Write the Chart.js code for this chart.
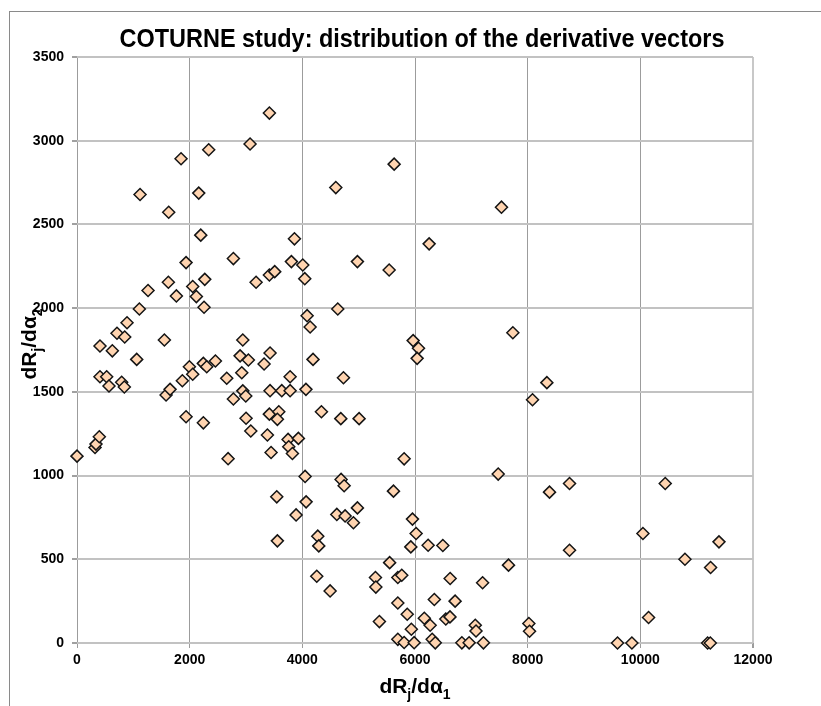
<!DOCTYPE html>
<html>
<head>
<meta charset="utf-8">
<title>COTURNE study</title>
<script src="https://cdn.jsdelivr.net/npm/chart.js@4.4.1/dist/chart.umd.min.js"></script>
<style>
  html, body { margin: 0; padding: 0; background: #fff; }
  #wrap { width: 821px; height: 706px; }
</style>
</head>
<body>
<div id="wrap"><canvas id="chart" width="821" height="706"></canvas></div>
<script>
// Derivative vectors: dRj/dalpha1 (x) and dRj/dalpha2 (y)
const dAlpha1 = [
  3415, 3072, 2338, 1847, 1119, 2161, 1628, 2197, 3860, 2776,
  3806, 4008, 1936, 3415, 3510, 3179, 4043, 1622, 2268, 1261,
  1764, 2054, 2119, 2255, 1107, 888, 710, 847, 408, 627,
  1551, 2943, 4085, 4138, 5630, 4594, 7535, 6251, 4978, 5541,
  4629, 7737, 5967, 6062, 1060, 408, 527, 568, 793, 840,
  1581, 1652, 1870, 1995, 2054, 2243, 2303, 2457, 2658, 2776,
  2895, 3042, 2925, 2943, 2996, 3321, 3427, 3427, 3635, 3783,
  3783, 4064, 1936, 2243, 3001, 3085, 3415, 3582, 3557, 3380,
  3445, 3747, 3759, 3824, 3930, 2682, 0, 320, 337, 396,
  4049, 3546, 4067, 3889, 3557, 4190, 4730, 4339, 4683, 5008,
  5807, 7477, 8086, 6038, 4688, 4742, 5618, 4612, 4759, 4978,
  4907, 5955, 6020, 5926, 6233, 6494, 4274, 4292, 5550, 7660,
  4256, 4493, 5298, 5305, 5695, 5765, 6624, 7200, 6343, 6712,
  5695, 5862, 5368, 6165, 6269, 5935, 6547, 6621, 7070, 7083,
  5695, 5807, 5985, 6305, 6360, 6832, 6961, 7215, 8021, 8033,
  8341, 8743, 8388, 10442, 10046, 8743, 11396, 10792, 11247, 10146,
  9595, 9850, 11194, 11242
];
const dAlpha2 = [
  3165, 2980, 2946, 2892, 2679, 2687, 2573, 2436, 2414, 2296,
  2278, 2258, 2272, 2198, 2218, 2155, 2176, 2155, 2172, 2105,
  2073, 2129, 2069, 2005, 1995, 1913, 1850, 1828, 1774, 1745,
  1810, 1810, 1955, 1887, 2860, 2720, 2603, 2384, 2278, 2228,
  1995, 1853, 1806, 1760, 1694, 1590, 1590, 1535, 1557, 1529,
  1481, 1515, 1566, 1650, 1605, 1670, 1650, 1684, 1581, 1457,
  1715, 1690, 1614, 1506, 1475, 1666, 1732, 1507, 1507, 1590,
  1507, 1515, 1351, 1315, 1342, 1266, 1367, 1381, 1336, 1242,
  1138, 1216, 1172, 1132, 1222, 1101, 1116, 1168, 1188, 1232,
  995, 873, 843, 765, 610, 1694, 1584, 1381, 1340, 1340,
  1100, 1009, 1453, 1700, 977, 939, 907, 768, 759, 807,
  718, 740, 654, 574, 584, 582, 638, 580, 480, 465,
  399, 311, 391, 334, 391, 405, 385, 360, 260, 250,
  239, 172, 128, 148, 106, 82, 143, 156, 106, 72,
  22, 3, 2, 22, 1, 1, 1, 1, 116, 70,
  1555, 953, 901, 953, 654, 554, 604, 500, 451, 152,
  0, 0, 0, 0
];
const xTicks = [0, 2000, 4000, 6000, 8000, 10000, 12000];
const yTicks = [0, 500, 1000, 1500, 2000, 2500, 3000, 3500];

const chartTitle = 'COTURNE study: distribution of the derivative vectors';
const xAxisTitle = [['dR', false], ['j', true], ['/d\u03b1', false], ['1', true]];
const yAxisTitle = [['dR', false], ['j', true], ['/d\u03b1', false], ['2', true]];

const FONT = "'Liberation Sans', Arial, Helvetica, sans-serif";

const points = dAlpha1.map((x, i) => ({ x: x, y: dAlpha2[i] }));

// Text with lowered subscripts, centred on (0, 0) baseline
function drawSubscripted(ctx, parts, size, subSize) {
  let total = 0;
  const widths = parts.map(([t, sub]) => {
    ctx.font = 'bold ' + (sub ? subSize : size) + 'px ' + FONT;
    const w = ctx.measureText(t).width;
    total += w;
    return w;
  });
  let x = -total / 2;
  parts.forEach(([t, sub], i) => {
    ctx.font = 'bold ' + (sub ? subSize : size) + 'px ' + FONT;
    ctx.fillText(t, x, sub ? size * 0.28 : 0);
    x += widths[i];
  });
}

const decorations = {
  id: 'decorations',
  beforeDraw(chart) {
    const ctx = chart.ctx;
    ctx.save();
    ctx.fillStyle = '#fff';
    ctx.fillRect(0, 0, chart.width, chart.height);
    ctx.strokeStyle = '#8a8a8a';
    ctx.lineWidth = 1;
    ctx.strokeRect(9.5, 11.5, 1000, 1000);
    ctx.restore();
  },
  afterDraw(chart) {
    const ctx = chart.ctx;
    const area = chart.chartArea;
    const cx = (area.left + area.right) / 2;
    const cy = (area.top + area.bottom) / 2;
    ctx.save();
    ctx.fillStyle = '#000';
    ctx.textBaseline = 'alphabetic';

    // chart title, slightly condensed
    ctx.font = 'bold 26px ' + FONT;
    const tw = ctx.measureText(chartTitle).width;
    const sx = 605 / tw;
    ctx.save();
    ctx.translate(cx + 7, 47);
    ctx.scale(sx, 1);
    ctx.textAlign = 'center';
    ctx.fillText(chartTitle, 0, 0);
    ctx.restore();

    ctx.textAlign = 'left';
    ctx.save();
    ctx.translate(cx, 693);
    drawSubscripted(ctx, xAxisTitle, 21, 14);
    ctx.restore();

    ctx.save();
    ctx.translate(36, cy - 6);
    ctx.rotate(-Math.PI / 2);
    drawSubscripted(ctx, yAxisTitle, 21, 14);
    ctx.restore();

    ctx.restore();
  }
};

new Chart(document.getElementById('chart').getContext('2d'), {
  type: 'scatter',
  data: {
    datasets: [{
      label: 'derivative vectors',
      data: points,
      clip: false,
      pointStyle: 'rectRot',
      pointRadius: 6,
      pointBorderWidth: 1.5,
      pointBackgroundColor: '#ffd4b0',
      pointBorderColor: '#141414'
    }]
  },
  options: {
    responsive: false,
    animation: false,
    layout: { padding: { top: 57, right: 68, left: 0, bottom: 0 } },
    plugins: {
      legend: { display: false },
      title: { display: false },
      tooltip: { enabled: false }
    },
    scales: {
      x: {
        type: 'linear',
        min: 0,
        max: 12000,
        afterBuildTicks: scale => { scale.ticks = xTicks.map(v => ({ value: v })); },
        afterFit: scale => { scale.height = 63; },
        ticks: {
          color: '#000',
          padding: 4,
          maxRotation: 0,
          font: { family: FONT, size: 14, weight: 'bold' },
          callback: v => String(v)
        },
        grid: {
          color: ctx => ctx.tick && ctx.tick.value === 12000 ? '#c8c8c8' : '#9c9c9c',
          lineWidth: ctx => ctx.tick && ctx.tick.value === 12000 ? 2 : 1,
          tickLength: 5,
          tickColor: '#9c9c9c'
        },
        border: { display: false }
      },
      y: {
        type: 'linear',
        min: 0,
        max: 3500,
        afterBuildTicks: scale => { scale.ticks = yTicks.map(v => ({ value: v })); },
        afterFit: scale => { scale.width = 77; },
        ticks: {
          color: '#000',
          padding: 8,
          font: { family: FONT, size: 14, weight: 'bold' },
          callback: v => String(v)
        },
        grid: {
          color: '#c2c2c2',
          lineWidth: 2,
          tickLength: 5,
          tickColor: '#a0a0a0'
        },
        border: { display: false }
      }
    }
  },
  plugins: [decorations]
});
</script>
</body>
</html>
